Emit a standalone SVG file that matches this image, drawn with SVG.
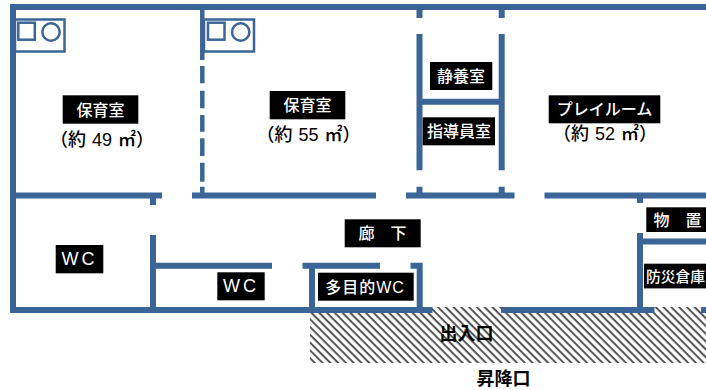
<svg xmlns="http://www.w3.org/2000/svg" width="706" height="390" viewBox="0 0 706 390">
<defs>
<pattern id="hatch" patternUnits="userSpaceOnUse" width="5.500" height="5.500" patternTransform="rotate(45)"><rect width="5.500" height="5.500" fill="#fff"/><rect width="5.500" height="2" fill="#555"/></pattern>
</defs>
<style>
.w{stroke:#3a6596;stroke-width:6;fill:none}
.f{stroke:#3a6596;stroke-width:2.5;fill:none}
.b{fill:#000}
text{font-family:"Liberation Sans","Noto Sans CJK JP",sans-serif;text-anchor:middle}
.l{fill:#fff;font-size:16px;font-weight:500}
.a{fill:#000;font-size:18px;font-weight:500;word-spacing:1px}
.k{fill:#000;font-size:18px;font-weight:700}
.wc{font-size:18px;letter-spacing:3px}
</style>
<rect width="706" height="390" fill="#fff"/>
<rect id="hatching" x="310" y="307" width="396" height="56" fill="url(#hatch)"/>
<g id="connectors">
<path class="w" d="M10 7H706M13 4V313M10 310H432.500M501 310H654.500M701 310H706M10 195.500H162M192 195.500H376M406 195.500H514.500M544.500 195.500H706"/>
<path class="w" d="M153 195V205M153 235V310M153 265.700H272M302.500 265.700H380M312 265V310M410.500 265.700H422.500M419.700 263V310M640 195V203M640 233V310M640 241.500H706"/>
<path class="w" d="M419.500 7V18M501.700 7V18M419.500 34V170.300M501.700 34V170.300M419.500 101.700H501.700M419.500 186.700V195M501.700 186.700V195"/>
<path class="w" style="stroke-width:4.500" d="M202.300 7V60M202.300 66V83.300M202.300 90.700V108.300M202.300 115V131.700M202.300 138.300V156M202.300 162.700V181.700M202.300 186.700V195"/>
</g>
<g id="fixture1"><rect class="f" x="15" y="19.500" width="49.500" height="32"/><rect class="f" x="18.300" y="22.700" width="16.500" height="17"/><circle class="f" cx="51" cy="32" r="8.700"/></g>
<g id="fixture2"><rect class="f" x="204" y="19.500" width="50" height="32"/><rect class="f" x="208" y="22.700" width="16.500" height="17"/><circle class="f" cx="240.700" cy="32" r="8.700"/></g>
<g id="room1"><rect class="b" x="62.700" y="95.300" width="75.600" height="28.400"/><text class="l" x="100.500" y="115.500">保育室</text><text class="a" x="102" y="146">（約 49 ㎡）</text></g>
<g id="room2"><rect class="b" x="269.700" y="91" width="75.600" height="28.300"/><text class="l" x="307.500" y="111">保育室</text><text class="a" x="308.500" y="141">（約 55 ㎡）</text></g>
<g id="rest"><rect class="b" x="430" y="62" width="62.300" height="28"/><text class="l" x="461" y="82">静養室</text></g>
<g id="guide"><rect class="b" x="422.700" y="117.300" width="72.300" height="28"/><text class="l" x="459" y="137">指導員室</text></g>
<g id="play"><rect class="b" x="548.700" y="95.300" width="111.600" height="28"/><text class="l" x="604.500" y="115">プレイルーム</text><text class="a" x="605" y="140">（約 52 ㎡）</text></g>
<g id="wc1"><rect class="b" x="55.700" y="245" width="47.600" height="28.300"/><text class="l wc" x="79.500" y="265">WC</text></g>
<g id="wc2"><rect class="b" x="217.300" y="272.300" width="47.400" height="28"/><text class="l wc" x="241" y="292">WC</text></g>
<g id="wc3"><rect class="b" x="318" y="272.700" width="95.700" height="28"/><text class="l" x="365" y="292.500" style="letter-spacing:1px">多目的WC</text></g>
<g id="hall"><rect class="b" x="344.700" y="219.300" width="76" height="28"/><text class="l" x="382.500" y="239">廊　下</text></g>
<g id="store"><rect class="b" x="646.300" y="207.300" width="60" height="24.700"/><text class="l" x="677.500" y="225.500">物　置</text></g>
<g id="bousai"><rect class="b" x="644" y="263.700" width="62" height="24.700"/><text class="l" x="675.500" y="281.500" style="font-size:14.800px">防災倉庫</text></g>
<g id="entrance"><text class="k" x="466.500" y="339.500">出入口</text></g>
<g id="lift"><text class="k" x="503.500" y="384.500">昇降口</text></g>
</svg>
